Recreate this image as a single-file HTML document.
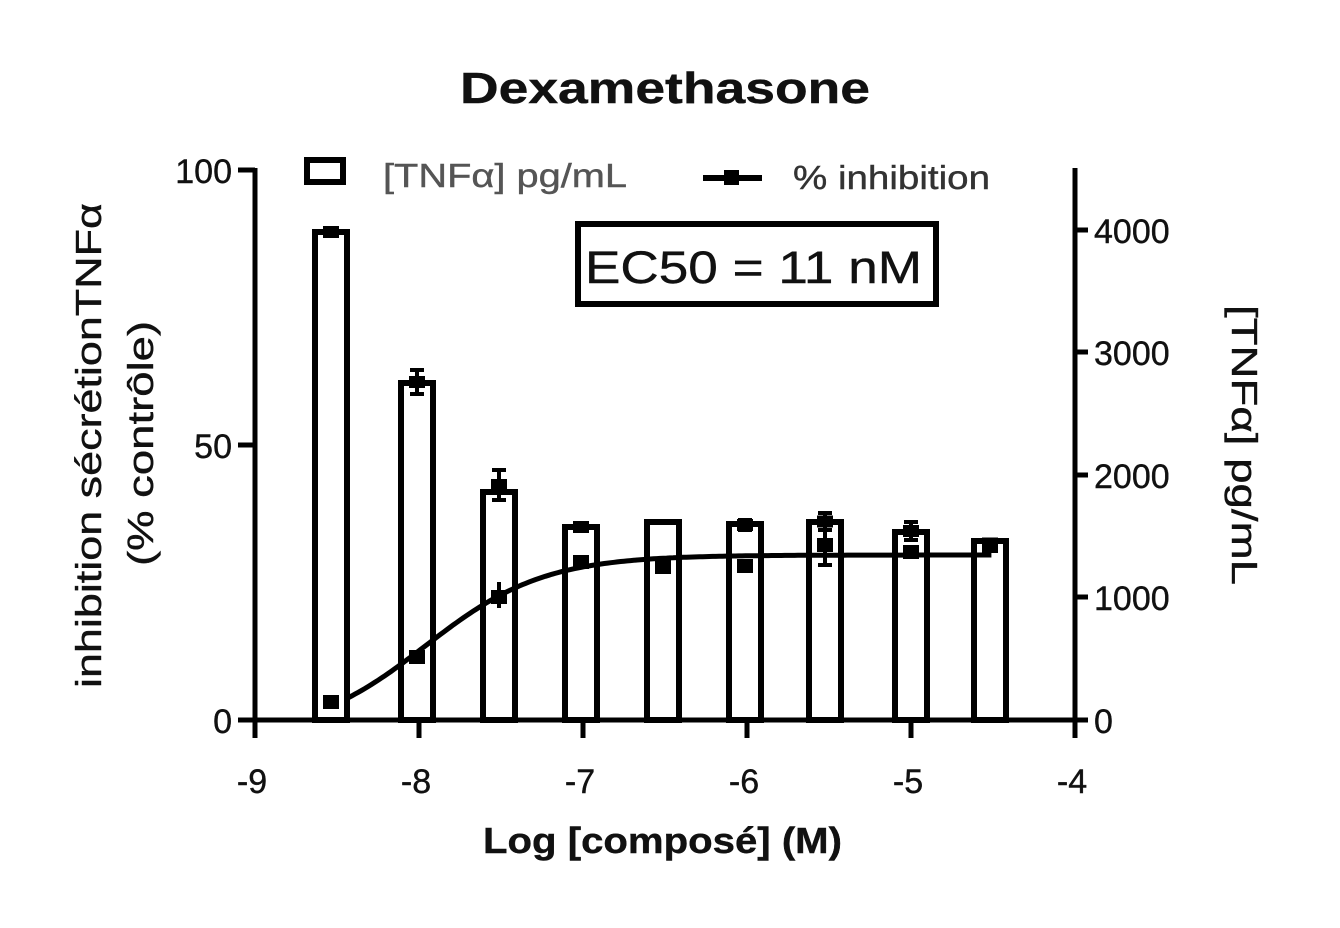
<!DOCTYPE html>
<html><head><meta charset="utf-8"><style>
html,body{margin:0;padding:0;background:#fff;}
svg text{font-family:"Liberation Sans",sans-serif;fill:#111;stroke:#111;stroke-width:0.4;}
</style></head><body>
<svg id="s" width="1340" height="923" viewBox="0 0 1340 923" xmlns="http://www.w3.org/2000/svg">
<text x="460" y="103" font-size="44" font-weight="bold" textLength="410" lengthAdjust="spacingAndGlyphs">Dexamethasone</text>
<g stroke="#000" stroke-width="5" fill="none">
<line x1="255" y1="168" x2="255" y2="722"/>
<line x1="1075" y1="168" x2="1075" y2="722"/>
<line x1="238" y1="720" x2="1088" y2="720"/>
<line x1="238" y1="170" x2="255" y2="170"/>
<line x1="238" y1="445" x2="255" y2="445"/>
<line x1="1075" y1="230" x2="1088" y2="230"/>
<line x1="1075" y1="352" x2="1088" y2="352"/>
<line x1="1075" y1="475" x2="1088" y2="475"/>
<line x1="1075" y1="597" x2="1088" y2="597"/>
<line x1="255" y1="720" x2="255" y2="738"/>
<line x1="419" y1="720" x2="419" y2="738"/>
<line x1="583" y1="720" x2="583" y2="738"/>
<line x1="747" y1="720" x2="747" y2="738"/>
<line x1="911" y1="720" x2="911" y2="738"/>
<line x1="1075" y1="720" x2="1075" y2="738"/>
</g>
<g font-size="34" text-anchor="end">
<text x="232" y="183">100</text><text x="232" y="458">50</text><text x="232" y="733">0</text>
</g>
<g font-size="34">
<text x="1094" y="243">4000</text><text x="1094" y="365">3000</text><text x="1094" y="488">2000</text><text x="1094" y="610">1000</text><text x="1094" y="733">0</text>
</g>
<g font-size="34" text-anchor="middle">
<text x="252" y="793">-9</text><text x="416" y="793">-8</text><text x="580" y="793">-7</text><text x="744" y="793">-6</text><text x="908" y="793">-5</text><text x="1072" y="793">-4</text>
</g>
<text x="483" y="853" font-size="36" font-weight="bold" textLength="359" lengthAdjust="spacingAndGlyphs">Log [composé] (M)</text>
<text transform="translate(101,688) rotate(-90)" font-size="36" textLength="485" lengthAdjust="spacingAndGlyphs">inhibition sécrétionTNFα</text>
<text transform="translate(153,566) rotate(-90)" font-size="36" textLength="245" lengthAdjust="spacingAndGlyphs">(% contrôle)</text>
<text transform="translate(1232,305) rotate(90)" font-size="36" textLength="280" lengthAdjust="spacingAndGlyphs">[TNFα] pg/mL</text>
<rect x="307" y="160" width="36" height="22" fill="none" stroke="#000" stroke-width="6"/>
<text x="383" y="187" font-size="33" style="fill:#555;stroke:#555" textLength="244" lengthAdjust="spacingAndGlyphs">[TNFα] pg/mL</text>
<line x1="703" y1="178" x2="762" y2="178" stroke="#000" stroke-width="6"/>
<rect x="724" y="170" width="15" height="15" fill="#000"/>
<text x="793" y="189" font-size="33" style="fill:#333;stroke:#333" textLength="197" lengthAdjust="spacingAndGlyphs">% inhibition</text>
<rect x="578" y="224" width="358" height="80" fill="none" stroke="#000" stroke-width="6"/>
<text x="585" y="283" font-size="45" textLength="337" lengthAdjust="spacingAndGlyphs">EC50 = 11 nM</text>
<g id="bars" stroke="#000" stroke-width="6" fill="none"></g>
<g id="pts"></g>
<path id="curve" stroke="#000" stroke-width="5" fill="none"/>
</svg>
<script>
var bars=[[331,232],[417,383],[499,492],[581,527],[663,522],[745,524],[825,522],[911,532],[990,541]];
var g=document.getElementById('bars'),ns="http://www.w3.org/2000/svg";
bars.forEach(function(b){var r=document.createElementNS(ns,'rect');r.setAttribute('x',b[0]-16);r.setAttribute('y',b[1]);r.setAttribute('width',32);r.setAttribute('height',720-b[1]);g.appendChild(r);});
var p=document.getElementById('pts');
function el(t,a){var e=document.createElementNS(ns,t);for(var k in a)e.setAttribute(k,a[k]);p.appendChild(e);}
[[331,232,232],[417,370,394],[499,470,500],[581,527,527],[745,520,530],[825,513,530],[911,522,540],[990,541,546]].forEach(function(e){
el('line',{x1:e[0],y1:e[1],x2:e[0],y2:e[2],stroke:'#000','stroke-width':4});
el('line',{x1:e[0]-7,y1:e[1],x2:e[0]+7,y2:e[1],stroke:'#000','stroke-width':4});
el('line',{x1:e[0]-7,y1:e[2],x2:e[0]+7,y2:e[2],stroke:'#000','stroke-width':4});
el('rect',{x:e[0]-8,y:(e[1]+e[2])/2-6,width:16,height:12,fill:'#000'});
});
[[331,702],[417,657],[499,597],[581,562],[663,567],[745,566],[825,545],[911,552],[990,546]].forEach(function(q){
el('rect',{x:q[0]-8,y:q[1]-7,width:16,height:14,fill:'#000'});});
el('line',{x1:499,y1:582,x2:499,y2:608,stroke:'#000','stroke-width':4});
el('line',{x1:825,y1:528,x2:825,y2:565,stroke:'#000','stroke-width':4});
el('line',{x1:818,y1:565,x2:832,y2:565,stroke:'#000','stroke-width':4});
var d="";
for(var x=-8.45;x<=-4.5;x+=0.02){var pct=-3+33/(1+Math.pow(10,(-7.96-x)*1.2));var X=255+164*(x+9),Y=720-5.5*pct;d+=(d?"L":"M")+X.toFixed(1)+","+Y.toFixed(1);}
document.getElementById('curve').setAttribute('d',d);
</script>
</body></html>
